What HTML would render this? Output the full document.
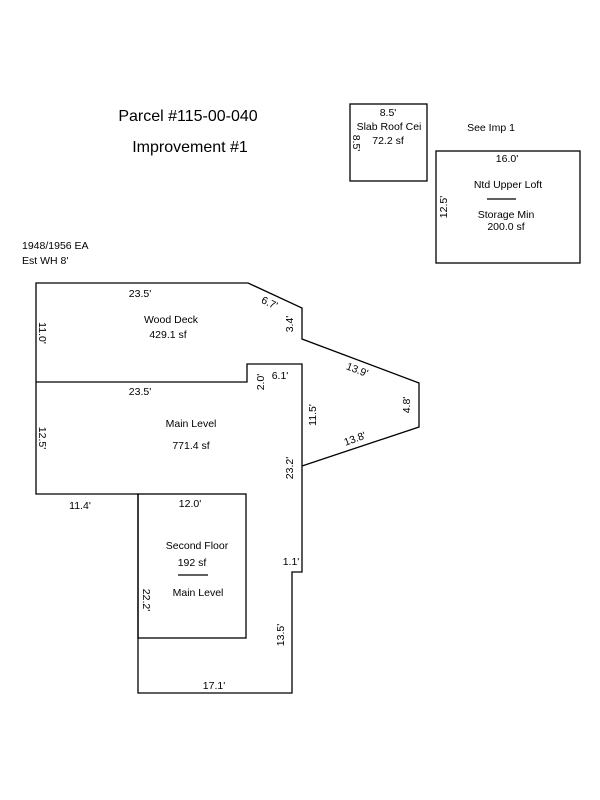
<!DOCTYPE html>
<html><head><style>
html,body{margin:0;padding:0;background:#fff;}
svg{display:block;font-family:"Liberation Sans",Arial,sans-serif;}
text{fill:#000;font-size:10.5px;}
.t{font-size:16px;}
</style></head><body>
<svg width="600" height="800" viewBox="0 0 600 800" xmlns="http://www.w3.org/2000/svg">
<g fill="none" stroke="#000" stroke-width="1.3">
<polyline points="36,382 36,283 248,283 302,308 302,339 419,383 419,427 302,466"/>
<polyline points="36,382 247,382 247,364 302,364 302,572 292,572 292,693 138,693 138,494 36,494 36,382"/>
<rect x="138" y="494" width="108" height="144"/>
<line x1="178" y1="575" x2="208" y2="575"/>
<rect x="350" y="104" width="77" height="77"/>
<rect x="436" y="151" width="144" height="112"/>
<line x1="487" y1="199" x2="516" y2="199"/>
</g>
<text class="t" x="188" y="121" text-anchor="middle">Parcel #115-00-040</text>
<text class="t" x="190" y="152" text-anchor="middle">Improvement #1</text>
<text x="22" y="249">1948/1956 EA</text>
<text x="22" y="264">Est WH 8'</text>
<text x="388" y="116" text-anchor="middle">8.5'</text>
<text x="389" y="130" text-anchor="middle">Slab Roof Cei</text>
<text x="388" y="144" text-anchor="middle">72.2 sf</text>
<text transform="translate(353,143) rotate(90)" text-anchor="middle">8.5'</text>
<text x="491" y="131" text-anchor="middle">See Imp 1</text>
<text x="507" y="162" text-anchor="middle">16.0'</text>
<text x="508" y="188" text-anchor="middle">Ntd Upper Loft</text>
<text x="506" y="218" text-anchor="middle">Storage Min</text>
<text x="506" y="230" text-anchor="middle">200.0 sf</text>
<text transform="translate(447,207) rotate(-90)" text-anchor="middle">12.5'</text>
<text x="140" y="297" text-anchor="middle">23.5'</text>
<text x="171" y="323" text-anchor="middle">Wood Deck</text>
<text x="168" y="338" text-anchor="middle">429.1 sf</text>
<text transform="translate(39,333) rotate(90)" text-anchor="middle">11.0'</text>
<text transform="translate(268,306) rotate(25)" text-anchor="middle">6.7'</text>
<text transform="translate(293,324) rotate(-90)" text-anchor="middle">3.4'</text>
<text transform="translate(356,373) rotate(21)" text-anchor="middle">13.9'</text>
<text transform="translate(410,405) rotate(-90)" text-anchor="middle">4.8'</text>
<text transform="translate(356,442) rotate(-20)" text-anchor="middle">13.8'</text>
<text x="140" y="395" text-anchor="middle">23.5'</text>
<text transform="translate(264,382) rotate(-90)" text-anchor="middle">2.0'</text>
<text x="280" y="379" text-anchor="middle">6.1'</text>
<text transform="translate(316,415) rotate(-90)" text-anchor="middle">11.5'</text>
<text x="191" y="427" text-anchor="middle">Main Level</text>
<text x="191" y="449" text-anchor="middle">771.4 sf</text>
<text transform="translate(39,438) rotate(90)" text-anchor="middle">12.5'</text>
<text transform="translate(293,468) rotate(-90)" text-anchor="middle">23.2'</text>
<text x="80" y="509" text-anchor="middle">11.4'</text>
<text x="190" y="507" text-anchor="middle">12.0'</text>
<text x="197" y="549" text-anchor="middle">Second Floor</text>
<text x="192" y="566" text-anchor="middle">192 sf</text>
<text x="198" y="596" text-anchor="middle">Main Level</text>
<text x="291" y="565" text-anchor="middle">1.1'</text>
<text transform="translate(143,600) rotate(90)" text-anchor="middle">22.2'</text>
<text transform="translate(284,635) rotate(-90)" text-anchor="middle">13.5'</text>
<text x="214" y="689" text-anchor="middle">17.1'</text>
</svg>
</body></html>
